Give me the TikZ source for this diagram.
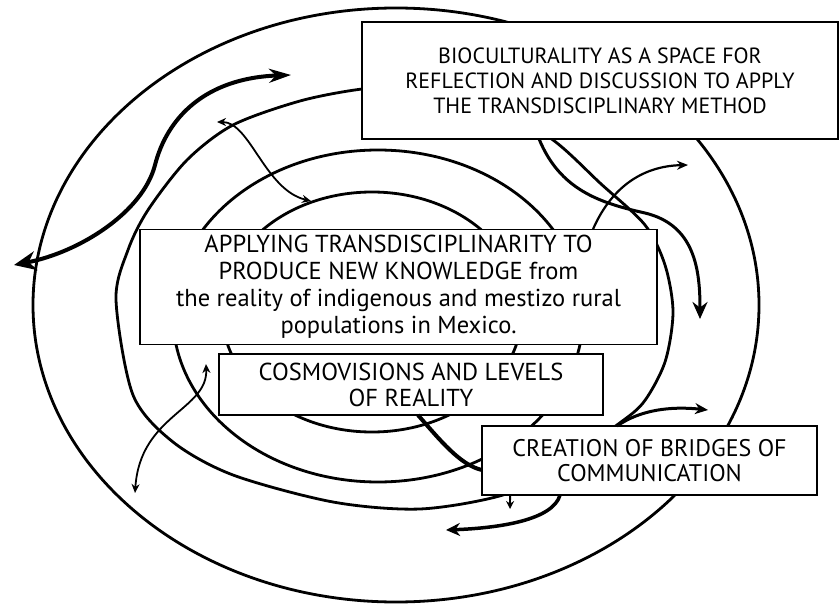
\documentclass[tikz,border=0pt]{standalone}
\usepackage{fontspec}
\setmainfont{PT Sans}
\usetikzlibrary{arrows.meta,calc}
\begin{document}
\begin{tikzpicture}[x=1pt,y=-1pt,
  ring/.style={line width=2.8pt},
  textbox/.style={draw,line width=1.6pt,fill=white,inner sep=0pt,outer sep=0pt,
    align=center,text=black,font=\fontsize{24.5}{27}\selectfont},
  heavy/.style={line width=4pt},
  medium/.style={line width=3pt},
  light/.style={line width=1.8pt},
]
\useasboundingbox[fill=white] (0,0) rectangle (840,604);

% concentric levels
\draw[ring] (396,305) ellipse [x radius=363pt, y radius=297pt];
\draw[ring] plot[smooth cycle] coordinates {
  (116,300) (128,250) (148,210) (187,160) (233,125) (300,101) (362,89)
  (425,85) (490,103) (553,140) (600,183) (645,225) (665,265) (673,312)
  (665,362) (643,403) (613,428) (560,467) (503,495) (420,509) (333,502)
  (233,475) (173,442) (133,395)};
\draw[ring] (378,316) ellipse [x radius=205pt, y radius=166pt];
\draw[ring] (372,312) ellipse [x radius=150pt, y radius=120pt];

% boxes
\node[textbox, font=\fontsize{22}{25}\selectfont, minimum width=476pt, minimum height=117pt] (bio) at (600,80.5)
  {BIOCULTURALITY AS A SPACE FOR\\REFLECTION AND DISCUSSION TO APPLY\\THE TRANSDISCIPLINARY METHOD};
\node[textbox, minimum width=517pt, minimum height=115pt] (app) at (398.5,287)
  {APPLYING TRANSDISCIPLINARITY TO\\PRODUCE NEW KNOWLEDGE from\\the reality of indigenous and mestizo rural\\populations in Mexico.};
\node[textbox, font=\fontsize{24.5}{26}\selectfont, minimum width=384pt, minimum height=61pt] (cos) at (411,384.5)
  {COSMOVISIONS AND LEVELS\\OF REALITY};
\node[textbox, font=\fontsize{24}{25}\selectfont, minimum width=335pt, minimum height=69pt] (cre) at (649.5,460.5)
  {CREATION OF BRIDGES OF\\COMMUNICATION};

% free ends of the connectors
\coordinate (outL) at (14,265);
\coordinate (outR) at (291,75);
\coordinate (midA) at (217,122);
\coordinate (midB) at (311,201);
\coordinate (lowA) at (206,364);
\coordinate (lowB) at (135,493);
\coordinate (rtA) at (700,319);
\coordinate (rtB) at (688,165);
\coordinate (rtC) at (708,410);
\coordinate (dnA) at (510,509);
\coordinate (dnB) at (446,530);

% connectors
\draw[heavy, {Stealth[length=22pt,width=19pt]}-{Stealth[length=22pt,width=14pt]}]
  (outL) .. controls (80,252) and (143,212) .. (155,165)
         .. controls (167,118) and (205,78) .. (outR);
\draw[light, {Stealth[length=9pt,width=8pt]}-{Stealth[length=9pt,width=8pt]}]
  (midA) .. controls (250,122) and (265,190) .. (midB);
\draw[light, {Stealth[length=9pt,width=8pt]}-{Stealth[length=9pt,width=8pt]}]
  (lowA) .. controls (208,410) and (140,415) .. (lowB);
\draw[medium, -{Stealth[length=17pt,width=15pt]}]
  ($(bio.south west)!0.372!(bio.south east)$) .. controls (560,190) and (600,203) .. (645,213)
  .. controls (695,225) and (700,270) .. (rtA);
\draw[light, line width=2.2pt, -{Stealth[length=11pt,width=9pt]}]
  ($(app.north west)!0.876!(app.north east)$) .. controls (610,190) and (640,166) .. (rtB);
\draw[medium, -{Stealth[length=13pt,width=11pt]}]
  ($(cre.north west)!0.403!(cre.north east)$) .. controls (640,410) and (670,406) .. (rtC);
\draw[heavy]
  ($(cos.south west)!0.518!(cos.south east)$) .. controls (440,440) and (460,465) ..
  ($(cre.north west)!0.638!(cre.south west)$);
\draw[light, -{Stealth[length=8pt,width=8pt]}]
  ($(cre.south west)!0.084!(cre.south east)$) -- (dnA);
\draw[medium, line width=3.5pt, -{Stealth[length=14pt,width=13pt]}]
  ($(cre.south west)!0.233!(cre.south east)$) .. controls (553,520) and (500,528) .. (dnB);
\end{tikzpicture}
\end{document}
